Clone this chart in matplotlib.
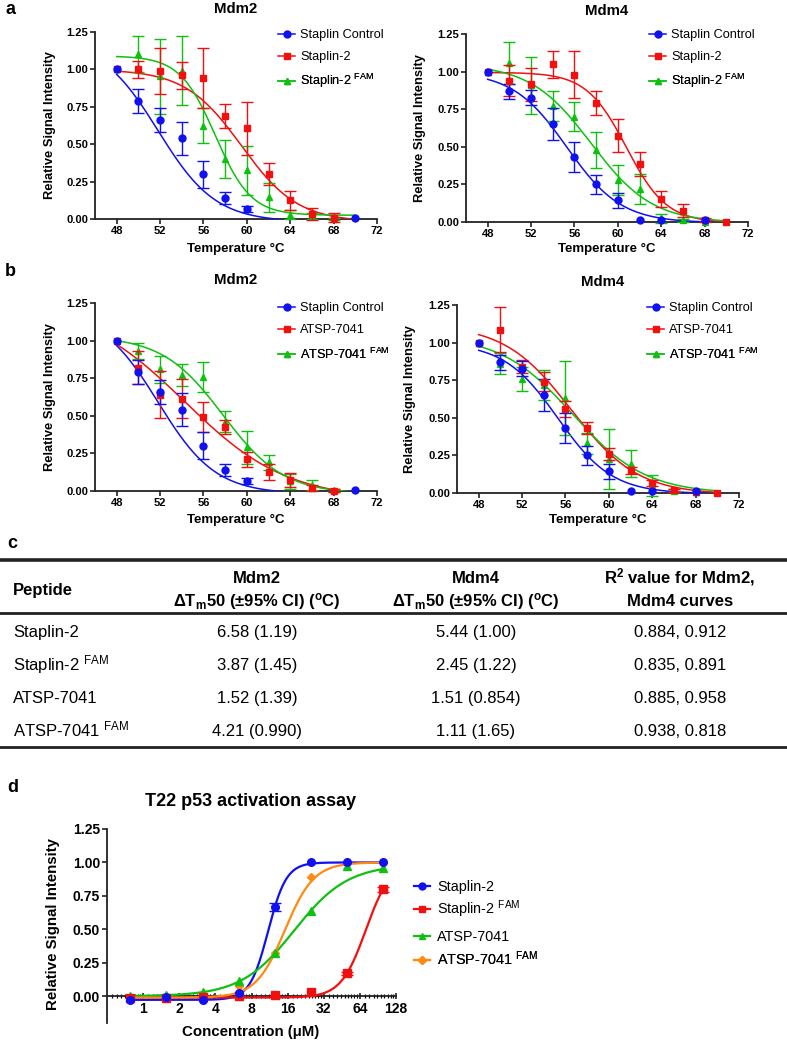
import numpy as np
import matplotlib
matplotlib.use('Agg')
import matplotlib.pyplot as plt
from matplotlib.lines import Line2D

plt.rcParams['font.family'] = ['Liberation Sans', 'DejaVu Sans']
plt.rcParams['mathtext.fontset'] = 'custom'
plt.rcParams['mathtext.rm'] = 'Liberation Sans'
plt.rcParams['mathtext.bf'] = 'Liberation Sans:bold'
plt.rcParams['mathtext.it'] = 'Liberation Sans:italic'

nan = np.nan
BLUE = '#1010f0'
RED = '#f01010'
GREEN = '#10c010'
ORANGE = '#ff8a10'

# ---- thermal shift data (panels a, b) ----
temps = [48, 50, 52, 54, 56, 58, 60, 62, 64, 66, 68, 70]

ctrl_mdm2 = [1.00, 0.79, 0.66, 0.54, 0.30, 0.14, 0.067, nan, nan, nan, nan, 0.005]
ctrl_mdm2_err = [nan, 0.08, 0.08, 0.11, 0.09, 0.04, 0.018, nan, nan, nan, nan, nan]
st2_mdm2 = [1.00, 1.00, 0.99, 0.96, 0.945, 0.69, 0.605, 0.30, 0.125, 0.035, 0.01, nan]
st2_mdm2_err = [nan, 0.055, 0.155, 0.09, 0.20, 0.08, 0.175, 0.075, 0.065, 0.04, 0.03, nan]
st2fam_mdm2 = [1.00, 1.105, 0.955, 0.99, 0.625, 0.40, 0.325, 0.145, 0.03, 0.02, 0.0, nan]
st2fam_mdm2_err = [nan, 0.12, 0.25, 0.23, 0.115, 0.125, 0.165, 0.095, 0.03, 0.02, 0.01, nan]

ctrl_mdm4 = [1.00, 0.87, 0.826, 0.65, 0.43, 0.25, 0.145, 0.01, 0.01, nan, 0.01, nan]
ctrl_mdm4_err = [nan, 0.05, 0.05, 0.105, 0.10, 0.065, 0.05, nan, nan, nan, nan, nan]
st2_mdm4 = [1.00, 0.94, 0.915, 1.05, 0.98, 0.79, 0.575, 0.385, 0.153, 0.075, 0.013, 0.0]
st2_mdm4_err = [nan, 0.105, 0.11, 0.09, 0.155, 0.08, 0.11, 0.08, 0.05, 0.045, 0.015, nan]
st2fam_mdm4 = [1.00, 1.06, 0.91, 0.77, 0.70, 0.48, 0.28, 0.22, 0.025, 0.01, 0.0, nan]
st2fam_mdm4_err = [nan, 0.14, 0.19, 0.10, 0.095, 0.12, 0.10, 0.10, 0.03, 0.01, nan, nan]

atsp_mdm2 = [1.00, 0.82, 0.64, 0.613, 0.49, 0.425, 0.21, 0.125, 0.073, 0.018, 0.002, nan]
atsp_mdm2_err = [nan, 0.11, 0.155, 0.13, 0.10, 0.045, 0.05, 0.055, 0.045, 0.02, 0.01, nan]
atspfam_mdm2 = [1.00, 0.93, 0.81, 0.77, 0.76, 0.46, 0.29, 0.19, 0.065, 0.04, 0.005, nan]
atspfam_mdm2_err = [nan, 0.055, 0.09, 0.075, 0.10, 0.07, 0.11, 0.05, 0.05, 0.035, 0.01, nan]

atsp_mdm4 = [1.00, 1.085, 0.84, 0.74, 0.56, 0.43, 0.26, 0.15, 0.067, 0.018, 0.005, 0.0]
atsp_mdm4_err = [nan, 0.15, 0.045, 0.065, 0.055, 0.04, 0.04, 0.025, 0.02, 0.01, nan, nan]
atspfam_mdm4 = [1.00, 0.86, 0.76, 0.72, 0.63, 0.33, 0.225, 0.195, 0.05, 0.015, 0.005, nan]
atspfam_mdm4_err = [nan, 0.07, 0.08, 0.10, 0.245, 0.07, 0.20, 0.09, 0.07, 0.01, nan, nan]

# Boltzmann fit parameters: top, bottom, Tm, slope
fit_ctrl_mdm2 = [1.2, -0.02, 51.82, 2.65]
fit_st2_mdm2 = [1.0, -0.02, 59.5, 2.6]
fit_st2fam_mdm2 = [1.09, 0.025, 57.1, 1.64]
fit_ctrl_mdm4 = [1.0, -0.005, 55.3, 2.5]
fit_st2_mdm4 = [0.995, -0.005, 60.8, 1.85]
fit_st2fam_mdm4 = [1.05, -0.005, 57.54, 2.82]
fit_atsp_mdm2 = [1.25, -0.06, 54.26, 4.73]
fit_atspfam_mdm2 = [1.03, -0.02, 57.8, 2.8]
fit_atsp_mdm4 = [1.12, -0.01, 56.52, 3.08]
fit_atspfam_mdm4 = [1.05, -0.005, 56.68, 3.35]

# ---- table (panel c) ----
peptides = ['Staplin-2', 'Staplin-2 $^{\\mathrm{FAM}}$', 'ATSP-7041', 'ATSP-7041 $^{\\mathrm{FAM}}$']
mdm2_dtm = ['6.58 (1.19)', '3.87 (1.45)', '1.52 (1.39)', '4.21 (0.990)']
mdm4_dtm = ['5.44 (1.00)', '2.45 (1.22)', '1.51 (0.854)', '1.11 (1.65)']
r2_vals = ['0.884, 0.912', '0.835, 0.891', '0.885, 0.958', '0.938, 0.818']

# ---- p53 activation (panel d) ----
conc = [0.78125, 1.5625, 3.125, 6.25, 12.5, 25, 50, 100]
st2_d = [-0.027, -0.008, -0.027, 0.025, 0.67, 1.00, 1.00, 1.00]
st2_d_err = [nan, nan, nan, nan, 0.03, nan, nan, nan]
st2fam_d = [-0.01, -0.01, -0.005, 0.0, 0.01, 0.03, 0.17, 0.80]
st2fam_d_err = [nan, nan, nan, nan, nan, nan, 0.01, 0.02]
atsp_d = [0.005, 0.01, 0.03, 0.115, 0.325, 0.64, 0.97, 0.96]
atspfam_d = [-0.01, -0.005, 0.01, 0.075, 0.32, 0.89, 1.00, 1.00]
# Hill fits: bottom, top, EC50, hill slope
hill_st2 = [-0.027, 1.0, 11.0, 5.7]
hill_st2fam = [-0.01, 1.0, 71.7, 4.2]
hill_atsp = [0.0, 0.985, 18.2, 1.95]
hill_atspfam = [-0.01, 1.0, 15.2, 3.6]

W, H = 787, 1041
fig = plt.figure(figsize=(W / 100, H / 100), dpi=100)


def fx(x):
    return x / W


def fy(y):
    return 1 - y / H


def axes_px(x0, ytop, x1, ybot):
    return fig.add_axes([fx(x0), fy(ybot), (x1 - x0) / W, (ybot - ytop) / H])


def boltz(t, top, bottom, tm, slope):
    return bottom + (top - bottom) / (1 + np.exp((t - tm) / slope))


def hill(x, bottom, top, ec50, h):
    return bottom + (top - bottom) / (1 + (ec50 / x) ** h)


def style(ax, fs):
    for s in ['top', 'right']:
        ax.spines[s].set_visible(False)
    for s in ['left', 'bottom']:
        ax.spines[s].set_linewidth(1.3)
        ax.spines[s].set_color('#222222')
    ax.tick_params(length=3.5, width=1.2, color='#222222', labelsize=fs, pad=1.5)


def points(ax, x, y, err, color, marker, z, ms=5):
    eb = ax.errorbar(x, y, yerr=err, fmt=marker, color=color, ms=ms, capsize=4,
                     elinewidth=1, capthick=1, zorder=z)
    for art in [eb[0], *eb[1], *eb[2]]:
        art.set_clip_on(False)


def legend_rows(ax, handles, labels, x, ys, fs, hl, pad):
    # one legend per row so that rows with superscripts keep the same pitch
    for h, lab, y in zip(handles, labels, ys):
        if '$' in lab:
            y += 2
        leg = ax.legend([h], [lab], loc='center left', bbox_to_anchor=(fx(x), fy(y)),
                        bbox_transform=fig.transFigure, frameon=False, fontsize=fs,
                        handlelength=hl, handletextpad=pad, borderpad=0, borderaxespad=0)
        ax.add_artist(leg)


def melt_panel(ax, series, leg_x, leg_y):
    t = np.linspace(48, 70, 300)
    handles = []
    labels = []
    n = len(series)
    for i, (vals, errs, fit, color, marker, label) in enumerate(series):
        ax.plot(t, boltz(t, *fit), color=color, lw=1.1, zorder=3)
        points(ax, temps, vals, errs, color, marker, 4 + (n - i) * 0.1)
        handles.append(Line2D([], [], color=color, marker=marker, ms=5, lw=1.1))
        labels.append(label)
    ax.set_xlim(46, 72)
    ax.set_ylim(0, 1.25)
    ax.set_xticks(range(48, 73, 4))
    ax.set_xticklabels([str(v) for v in range(48, 73, 4)], fontweight='bold')
    yt = np.arange(0, 1.26, 0.25)
    ax.set_yticks(yt)
    ax.set_yticklabels([f'{v:.2f}' for v in yt], fontweight='bold')
    style(ax, 8)
    legend_rows(ax, handles, labels, leg_x, [leg_y, leg_y + 22, leg_y + 44], 9.2, 1.35, 0.4)


def ylab(x, y, fs=9.3):
    fig.text(fx(x), fy(y), 'Relative Signal Intensity', rotation=90, ha='center',
             va='center', fontsize=fs, fontweight='bold')


def xlab(x, y, text='Temperature \u00b0C', fs=9.5):
    fig.text(fx(x), fy(y), text, ha='center', va='center', fontsize=fs, fontweight='bold')


def title(x, y, text, fs=10.8):
    fig.text(fx(x), fy(y), text, ha='center', va='center', fontsize=fs, fontweight='bold')


def panel_label(x, y, text):
    fig.text(fx(x), fy(y), text, ha='left', va='center', fontsize=13, fontweight='bold')


fam = ' $^{\\mathrm{FAM}}$'

# panel a
panel_label(6, 9, 'a')
ax = axes_px(95, 32, 377, 219)
melt_panel(ax, [
    (ctrl_mdm2, ctrl_mdm2_err, fit_ctrl_mdm2, BLUE, 'o', 'Staplin Control'),
    (st2_mdm2, st2_mdm2_err, fit_st2_mdm2, RED, 's', 'Staplin-2'),
    (st2fam_mdm2, st2fam_mdm2_err, fit_st2fam_mdm2, GREEN, '^', 'Staplin-2' + fam),
], 278, 35)
title(236, 9, 'Mdm2')
ylab(50, 125)
xlab(236, 249)

ax = axes_px(466, 34, 748, 222)
melt_panel(ax, [
    (ctrl_mdm4, ctrl_mdm4_err, fit_ctrl_mdm4, BLUE, 'o', 'Staplin Control'),
    (st2_mdm4, st2_mdm4_err, fit_st2_mdm4, RED, 's', 'Staplin-2'),
    (st2fam_mdm4, st2fam_mdm4_err, fit_st2fam_mdm4, GREEN, '^', 'Staplin-2' + fam),
], 649, 35)
title(607, 11, 'Mdm4')
ylab(420, 128)
xlab(607, 249)

# panel b
panel_label(5, 272, 'b')
ax = axes_px(95, 303, 377, 491)
melt_panel(ax, [
    (ctrl_mdm2, ctrl_mdm2_err, fit_ctrl_mdm2, BLUE, 'o', 'Staplin Control'),
    (atsp_mdm2, atsp_mdm2_err, fit_atsp_mdm2, RED, 's', 'ATSP-7041'),
    (atspfam_mdm2, atspfam_mdm2_err, fit_atspfam_mdm2, GREEN, '^', 'ATSP-7041' + fam),
], 278, 308)
title(236, 280, 'Mdm2')
ylab(50, 397)
xlab(236, 520)

ax = axes_px(457, 305, 739, 493)
melt_panel(ax, [
    (ctrl_mdm4, ctrl_mdm4_err, fit_ctrl_mdm4, BLUE, 'o', 'Staplin Control'),
    (atsp_mdm4, atsp_mdm4_err, fit_atsp_mdm4, RED, 's', 'ATSP-7041'),
    (atspfam_mdm4, atspfam_mdm4_err, fit_atspfam_mdm4, GREEN, '^', 'ATSP-7041' + fam),
], 647, 308)
title(603, 282, 'Mdm4')
ylab(410, 399)
xlab(598, 520)

# panel c: table
panel_label(7, 543, 'c')
for yy, lw in [(560, 2.6), (613, 2.0), (747, 2.0)]:
    fig.add_artist(Line2D([0, 1], [fy(yy), fy(yy)], transform=fig.transFigure,
                          lw=lw, color='#222222'))
col_x = [257, 476, 680]
fig.text(fx(13), fy(595), 'Peptide', ha='left', va='baseline', fontsize=12, fontweight='bold')
hdr = [('Mdm2', 'ΔT$_{\\mathbf{m}}$50 (±95% CI) ($^{\\mathbf{o}}$C)'),
       ('Mdm4', 'ΔT$_{\\mathbf{m}}$50 (±95% CI) ($^{\\mathbf{o}}$C)'),
       ('R$^{\\mathbf{2}}$ value for Mdm2,', 'Mdm4 curves')]
for cx, (l1, l2) in zip(col_x, hdr):
    fig.text(fx(cx), fy(583), l1, ha='center', va='baseline', fontsize=12, fontweight='bold')
    fig.text(fx(cx), fy(606), l2, ha='center', va='baseline', fontsize=12, fontweight='bold')
for i, (p, a2, a4, r) in enumerate(zip(peptides, mdm2_dtm, mdm4_dtm, r2_vals)):
    yy = 637 + 33 * i
    fig.text(fx(13), fy(yy), p, ha='left', va='baseline', fontsize=12)
    for cx, s in zip(col_x, [a2, a4, r]):
        fig.text(fx(cx), fy(yy), s, ha='center', va='baseline', fontsize=12)

# panel d
panel_label(7, 788, 'd')
ax = axes_px(107, 829, 396, 1023)
cx = np.geomspace(conc[0], conc[-1], 400)
series_d = [
    (st2_d, st2_d_err, hill_st2, BLUE, 'o', 'Staplin-2'),
    (st2fam_d, st2fam_d_err, hill_st2fam, RED, 's', 'Staplin-2' + fam),
    (atsp_d, None, hill_atsp, GREEN, '^', 'ATSP-7041'),
    (atspfam_d, None, hill_atspfam, ORANGE, 'D', 'ATSP-7041' + fam),
]
hd = []
for i, (vals, errs, fit, color, marker, label) in enumerate(series_d):
    ax.plot(cx, hill(cx, *fit), color=color, lw=1.6, zorder=3)
    points(ax, conc, vals, errs, color, marker, 4 + (4 - i) * 0.1,
           ms=5.5 if marker != 'D' else 4.5)
    hd.append(Line2D([], [], color=color, marker=marker, ms=5 if marker != 'D' else 4, lw=1.6))
ax.set_xscale('log', base=2)
ax.set_xlim(0.5, 128)
ax.set_ylim(-0.2, 1.25)
ax.spines['bottom'].set_position(('data', 0))
xt = [1, 2, 4, 8, 16, 32, 64, 128]
ax.set_xticks(xt)
ax.set_xticklabels([str(v) for v in xt], fontweight='bold')
minor = [b * (1 + k / 10) for b in [0.5, 1, 2, 4, 8, 16, 32, 64] for k in range(1, 10)]
ax.set_xticks(minor, minor=True)
ax.set_xticklabels([], minor=True)
yt = np.arange(0, 1.26, 0.25)
ax.set_yticks(yt)
ax.set_yticklabels([f'{v:.2f}' for v in yt], fontweight='bold')
style(ax, 10)
ax.tick_params(axis='x', which='minor', length=3, width=0.9, direction='inout')
ax.tick_params(axis='x', which='major', length=5, direction='inout')
legend_rows(ax, hd, [s[5] for s in series_d], 414, [887, 907, 937, 957], 10.4, 1.1, 0.5)
title(251, 802, 'T22 p53 activation assay', fs=13)
ylab(53, 924, fs=10.8)
xlab(251, 1032, text='Concentration (\u03bcM)', fs=10.8)

fig.savefig('out.png', dpi=100)
